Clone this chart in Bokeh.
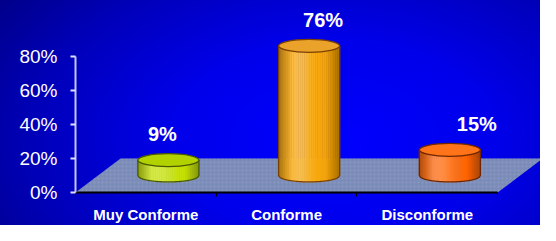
import numpy as np
from bokeh.plotting import figure
from bokeh.models import ColumnDataSource, FixedTicker
from bokeh.core.properties import value
from bokeh.embed import file_html
from bokeh.resources import INLINE

# ---- data ----
categories = ["Muy Conforme", "Conforme", "Disconforme"]
values = [9, 76, 15]
value_labels = ["9%", "76%", "15%"]
y_ticks = [0, 20, 40, 60, 80]
y_tick_labels = ["0%", "20%", "40%", "60%", "80%"]

# ---- styles / layout ----
body_colors = ["#c4e000", "#f8a400", "#ff6400"]
top_colors = ["#b2d200", "#eaa22a", "#ff7418"]
edge_colors = ["#485800", "#7a4000", "#6e2600"]
label_nudge_px = [-6, 14, 27]
FONT = "Liberation Sans"

depth_dx = 0.32      # floor depth, x units
depth_dy = 20.0      # floor depth, y units
cyl_w = 0.434        # cylinder width, x units
cyl_eh = 7.6         # ellipse height, y units

n = len(categories)
xs_cat = np.arange(n, dtype=float)

p = figure(width=540, height=225, x_range=(-0.5, 2.804), y_range=(0, 112.6),
           output_backend="svg", toolbar_location=None,
           min_border_left=75, min_border_right=0, min_border_top=0,
           min_border_bottom=32)
p.background_fill_color = None
p.border_fill_color = None
p.outline_line_color = None
p.grid.visible = False
p.styles = {"background": "radial-gradient(ellipse 75% 110% at 62% 62%, #0000ff 0%, #0000ea 40%, #0000b8 75%, #00008a 100%)"}

# floor
x0, x1 = -0.5, n - 0.5
p.patch([x0, x1, x1 + depth_dx, x0 + depth_dx], [0, 0, depth_dy, depth_dy],
        fill_color="#7b8cb8", line_color=None)
p.patch([x0, x1, x1 + depth_dx, x0 + depth_dx], [0, 0, depth_dy, depth_dy],
        fill_color=None, line_color=None, hatch_pattern=".", hatch_color="#a8b4d0",
        hatch_alpha=0.35, hatch_scale=4)


def hex2rgb(h):
    h = h.lstrip("#")
    return np.array([int(h[i:i + 2], 16) for i in (0, 2, 4)], dtype=float)


def rgb2hex(c):
    c = np.clip(np.round(c), 0, 255).astype(int)
    return "#%02x%02x%02x" % tuple(c)


def shade(base, u):
    c = hex2rgb(base)
    t = 0.28 * np.exp(-((u + 0.35) / 0.5) ** 2)
    c = c + (255 - c) * t
    d = 0.32 * max(0.0, abs(u) - 0.55) / 0.45
    c = c * (1 - d)
    return rgb2hex(c)


base_y = depth_dy / 2
N = 28
strip_xs, strip_ys, strip_cols = [], [], []
out_xs, out_ys = [], []
cx_list, top_list = [], []
hw, he = cyl_w / 2, cyl_eh / 2
for i, v in enumerate(values):
    cx = xs_cat[i] + depth_dx / 2
    top = base_y + v
    cx_list.append(cx)
    top_list.append(top)
    us = np.linspace(-1, 1, N + 1)
    for k in range(N):
        u0, u1 = us[k], us[k + 1]
        xa, xb = cx + u0 * hw, cx + u1 * hw
        ya = base_y - he * np.sqrt(max(0, 1 - u0 ** 2))
        yb = base_y - he * np.sqrt(max(0, 1 - u1 ** 2))
        strip_xs.append([xa, xb, xb, xa])
        strip_ys.append([ya, yb, top, top])
        strip_cols.append(shade(body_colors[i], (u0 + u1) / 2))
    uu = np.linspace(-1, 1, 60)
    ox = [cx - hw] + list(cx + uu * hw) + [cx + hw]
    oy = [top] + list(base_y - he * np.sqrt(np.clip(1 - uu ** 2, 0, 1))) + [top]
    out_xs.append(ox)
    out_ys.append(oy)

p.patches(strip_xs, strip_ys, fill_color=strip_cols, line_color=strip_cols, line_width=0.6)
p.multi_line(out_xs, out_ys, line_color=edge_colors, line_width=1.3)

src = ColumnDataSource(dict(x=cx_list, y=top_list, fc=top_colors, lc=edge_colors,
                            lab=value_labels, dx=label_nudge_px))
p.ellipse(x="x", y="y", width=cyl_w, height=cyl_eh, fill_color="fc",
          line_color="lc", line_width=1.3, source=src)
p.text(x="x", y="y", text="lab", x_offset="dx", y_offset=-26, source=src,
       text_color="white", text_font=value(FONT), text_font_style="bold",
       text_font_size="20px", text_align="center", text_baseline="middle")

# axes
xa = p.xaxis[0]
xa.ticker = FixedTicker(ticks=list(xs_cat), minor_ticks=[i - 0.5 for i in range(n + 1)])
xa.major_label_overrides = {int(i): c for i, c in zip(xs_cat, categories)}
xa.bounds = (x0, x1)
xa.axis_line_color = "black"
xa.axis_line_width = 2
xa.major_tick_line_color = None
xa.major_tick_out = 0
xa.major_tick_in = 0
xa.minor_tick_line_color = "black"
xa.minor_tick_out = 4
xa.minor_tick_in = 0
xa.major_label_standoff = 9
xa.major_label_text_color = "white"
xa.major_label_text_font = FONT
xa.major_label_text_font_style = "bold"
xa.major_label_text_font_size = "15px"

ya = p.yaxis[0]
ya.ticker = FixedTicker(ticks=y_ticks, minor_ticks=[])
ya.major_label_overrides = {t: l for t, l in zip(y_ticks, y_tick_labels)}
ya.bounds = (y_ticks[0], y_ticks[-1])
ya.axis_line_color = "#c4c4f0"
ya.axis_line_width = 2
ya.major_tick_line_color = "#e0e0ff"
ya.major_tick_line_width = 2
ya.major_tick_out = 5
ya.major_tick_in = 0
ya.minor_tick_line_color = None
ya.major_label_standoff = 13
ya.major_label_text_color = "white"
ya.major_label_text_font = FONT
ya.major_label_text_font_size = "19px"

open("out.html", "w").write(file_html(p, INLINE))
